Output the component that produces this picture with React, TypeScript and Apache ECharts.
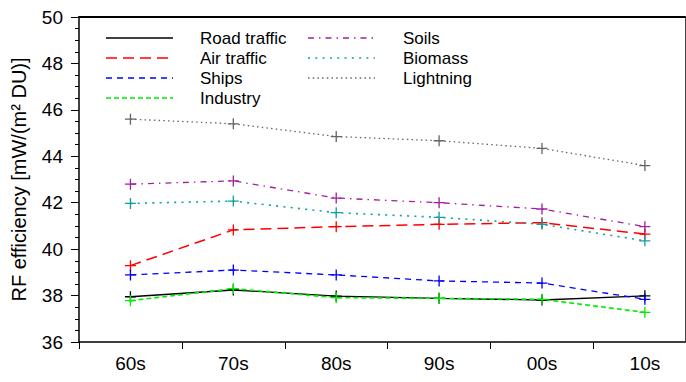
import React, { useEffect, useRef } from "react";
import * as echarts from "echarts";

const categories = ["60s", "70s", "80s", "90s", "00s", "10s"];
const yTicks = [36, 38, 40, 42, 44, 46, 48, 50];

const roadTraffic = [37.95, 38.24, 37.98, 37.88, 37.81, 37.99];
const airTraffic = [39.29, 40.83, 40.97, 41.07, 41.14, 40.65];
const ships = [38.89, 39.1, 38.89, 38.63, 38.54, 37.84];
const industry = [37.78, 38.3, 37.91, 37.88, 37.84, 37.28];
const soils = [42.8, 42.94, 42.2, 42.0, 41.73, 40.97];
const biomass = [41.97, 42.07, 41.57, 41.37, 41.07, 40.36];
const lightning = [45.6, 45.4, 44.85, 44.67, 44.34, 43.6];

const seriesDefs = [
  { name: "Road traffic", data: roadTraffic, color: "#000000", dash: "solid" as any, width: 1.3 },
  { name: "Air traffic", data: airTraffic, color: "#ff0000", dash: [11, 6], width: 1.5 },
  { name: "Ships", data: ships, color: "#0000ff", dash: [6, 5], width: 1.3 },
  { name: "Industry", data: industry, color: "#00ee00", dash: [5, 3], width: 1.6 },
  { name: "Soils", data: soils, color: "#a020a0", dash: [6, 5, 1.5, 5], width: 1.3 },
  { name: "Biomass", data: biomass, color: "#10a0a0", dash: [2, 5.3], width: 1.6 },
  { name: "Lightning", data: lightning, color: "#666666", dash: [1.5, 3.2], width: 1.3 },
];

const FONT = "Liberation Sans, Arial, sans-serif";
const PLUS = "path://M4.4,0H5.6V10H4.4ZM0,4.4H10V5.6H0Z";

export default function App() {
  const ref = useRef<HTMLDivElement>(null);
  useEffect(() => {
    if (!ref.current) return;
    const chart = echarts.init(ref.current, null, { renderer: "svg" });

    const legendGraphics: any[] = [];
    seriesDefs.forEach((s, i) => {
      const col = i < 4 ? 0 : 1;
      const row = i < 4 ? i : i - 4;
      const lx = col === 0 ? 106 : 308;
      const tx = col === 0 ? 200 : 403;
      const y = 38 + row * 20;
      legendGraphics.push({
        type: "line",
        shape: { x1: lx, y1: y, x2: lx + 67, y2: y },
        style: { stroke: s.color, lineWidth: s.width, lineDash: s.dash === "solid" ? null : s.dash },
        silent: true,
      });
      legendGraphics.push({
        type: "text",
        x: tx,
        y: y,
        style: { text: s.name, fill: "#000", font: `17px ${FONT}`, textVerticalAlign: "middle" },
        silent: true,
      });
    });

    chart.setOption({
      animation: false,
      backgroundColor: "#ffffff",
      grid: { left: 79, top: 17, right: 1, bottom: 40 },
      xAxis: [
        {
          type: "value",
          min: -0.5,
          max: 5.39,
          axisLine: { show: true, onZero: false, lineStyle: { color: "#000", width: 1.5 } },
          axisTick: {
            show: true,
            inside: false,
            length: 7,
            customValues: [-0.5, 0.5, 1.5, 2.5, 3.5, 4.5],
            lineStyle: { color: "#000", width: 1 },
          },
          axisLabel: {
            show: true,
            customValues: [0, 1, 2, 3, 4, 5],
            formatter: (v: number) => categories[Math.round(v)] ?? "",
            color: "#000",
            fontFamily: FONT,
            fontSize: 19,
            margin: 12,
          },
          splitLine: { show: false },
        },
        {
          type: "value",
          position: "top",
          min: -0.5,
          max: 5.39,
          axisLine: { show: true, onZero: false, lineStyle: { color: "#000", width: 2 } },
          axisTick: { show: false },
          axisLabel: { show: false },
          splitLine: { show: false },
        },
      ],
      yAxis: [
        {
          type: "value",
          min: yTicks[0],
          max: yTicks[yTicks.length - 1],
          interval: 2,
          name: "RF efficiency [mW/(m² DU)]",
          nameLocation: "middle",
          nameGap: 50,
          nameRotate: 90,
          nameTextStyle: { color: "#000", fontFamily: FONT, fontSize: 20 },
          axisLine: { show: true, onZero: false, lineStyle: { color: "#000", width: 1.5 } },
          axisTick: { show: true, inside: false, length: 8, lineStyle: { color: "#000" } },
          minorTick: { show: true, splitNumber: 4, length: 4, lineStyle: { color: "#000" } },
          axisLabel: {
            color: "#000",
            fontFamily: FONT,
            fontSize: 19,
            margin: 16,
            formatter: (v: number) => String(v),
          },
          splitLine: { show: false },
          minorSplitLine: { show: false },
        },
        {
          type: "value",
          position: "right",
          min: 36,
          max: 50,
          axisLine: { show: true, onZero: false, lineStyle: { color: "#444", width: 1 } },
          axisTick: { show: false },
          axisLabel: { show: false },
          splitLine: { show: false },
        },
      ],
      series: seriesDefs.map((s) => ({
        name: s.name,
        type: "line",
        xAxisIndex: 0,
        yAxisIndex: 0,
        data: s.data.map((v, i) => [i, v]),
        symbol: PLUS,
        symbolSize: 11,
        showSymbol: true,
        itemStyle: { color: s.color },
        lineStyle: { color: s.color, width: s.width, type: s.dash },
        emphasis: { disabled: true },
      })),
      graphic: legendGraphics,
    });

    return () => chart.dispose();
  }, []);

  return (
    <div
      ref={ref}
      style={{ position: "fixed", left: 0, top: 0, width: 686, height: 382, background: "#fff" }}
    />
  );
}
